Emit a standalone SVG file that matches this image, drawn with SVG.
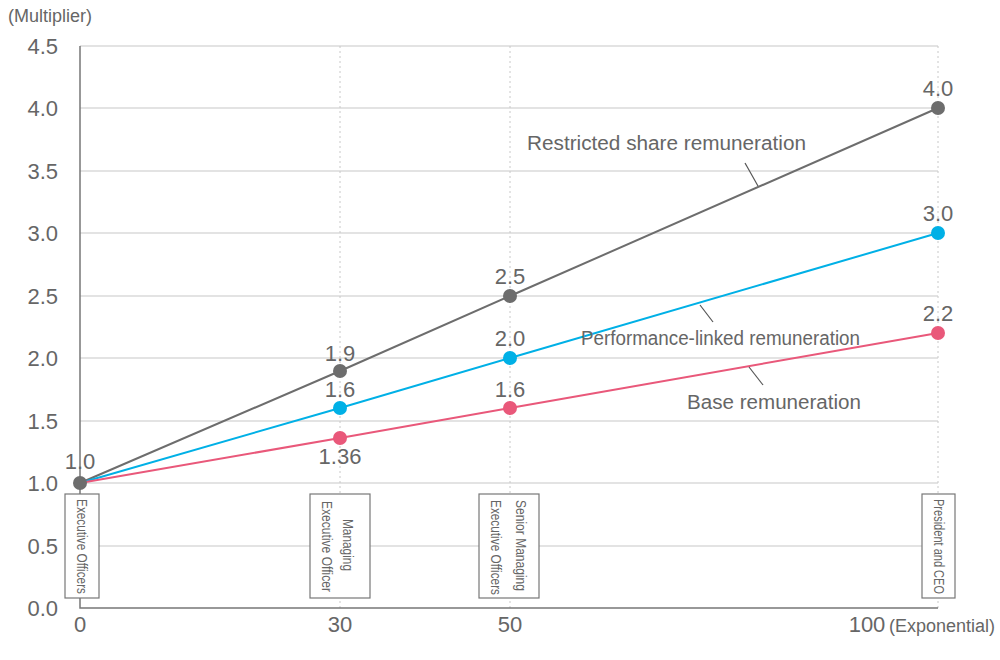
<svg xmlns="http://www.w3.org/2000/svg" width="1000" height="660" viewBox="0 0 1000 660">
<style>
.g{stroke:#c8c8c8;stroke-width:1.2}
.d{stroke:#c8c8c8;stroke-width:1;stroke-dasharray:2,3}
.t{font-family:"Liberation Sans",Arial,sans-serif;fill:#666;font-size:22px}
.s{font-family:"Liberation Sans Narrow","Liberation Sans",Arial,sans-serif;fill:#666;font-size:20px}
.b{font-family:"Liberation Sans Narrow","Liberation Sans",Arial,sans-serif;fill:#666;font-size:14px}
.box{fill:#fff;stroke:#777;stroke-width:1.2}
</style>
<rect width="1000" height="660" fill="#fff"/>
<g id="grid">
<line class="g" x1="80" y1="46" x2="938" y2="46"/>
<line class="g" x1="80" y1="108" x2="938" y2="108"/>
<line class="g" x1="80" y1="171" x2="938" y2="171"/>
<line class="g" x1="80" y1="233" x2="938" y2="233"/>
<line class="g" x1="80" y1="296" x2="938" y2="296"/>
<line class="g" x1="80" y1="358" x2="938" y2="358"/>
<line class="g" x1="80" y1="421" x2="938" y2="421"/>
<line class="g" x1="80" y1="483" x2="938" y2="483"/>
<line class="g" x1="80" y1="546" x2="938" y2="546"/>
<line class="d" x1="340" y1="46" x2="340" y2="608"/>
<line class="d" x1="510" y1="46" x2="510" y2="608"/>
<line class="d" x1="938" y1="46" x2="938" y2="608"/>
<path d="M80 46V608H938" fill="none" stroke="#777" stroke-width="1.5"/>
</g>
<g id="axes" class="t">
<text x="8" y="22" style="font-size:18px">(Multiplier)</text>
<text x="58" y="54" text-anchor="end">4.5</text>
<text x="58" y="116" text-anchor="end">4.0</text>
<text x="58" y="179" text-anchor="end">3.5</text>
<text x="58" y="241" text-anchor="end">3.0</text>
<text x="58" y="304" text-anchor="end">2.5</text>
<text x="58" y="366" text-anchor="end">2.0</text>
<text x="58" y="429" text-anchor="end">1.5</text>
<text x="58" y="491" text-anchor="end">1.0</text>
<text x="58" y="554" text-anchor="end">0.5</text>
<text x="58" y="616" text-anchor="end">0.0</text>
<text x="80" y="632" text-anchor="middle">0</text>
<text x="340" y="632" text-anchor="middle">30</text>
<text x="510" y="632" text-anchor="middle">50</text>
<text x="867" y="632" text-anchor="middle">100</text>
<text x="889" y="632" style="font-size:18px">(Exponential)</text>
</g>
<g id="connectors" fill="none" stroke-width="2">
<polyline points="80,483 340,371 510,296 938,108" stroke="#6d6d6d"/>
<polyline points="80,483 340,408 510,358 938,233" stroke="#00b0e6"/>
<polyline points="80,483 340,438 510,408 938,333" stroke="#e9587a"/>
<g stroke="#555" stroke-width="1.2">
<line x1="745" y1="163" x2="758" y2="186"/>
<line x1="700" y1="305" x2="713" y2="322"/>
<line x1="749" y1="367" x2="763" y2="385"/>
</g>
</g>
<g id="points">
<circle cx="340" cy="438" r="7" fill="#e9587a"/>
<circle cx="510" cy="408" r="7" fill="#e9587a"/>
<circle cx="938" cy="333" r="7" fill="#e9587a"/>
<circle cx="340" cy="408" r="7" fill="#00b0e6"/>
<circle cx="510" cy="358" r="7" fill="#00b0e6"/>
<circle cx="938" cy="233" r="7" fill="#00b0e6"/>
<circle cx="340" cy="371" r="7" fill="#6d6d6d"/>
<circle cx="510" cy="296" r="7" fill="#6d6d6d"/>
<circle cx="938" cy="108" r="7" fill="#6d6d6d"/>
<circle cx="80" cy="483" r="7" fill="#6d6d6d"/>
</g>
<g id="values" class="t" text-anchor="middle">
<text x="80" y="469">1.0</text>
<text x="340" y="361">1.9</text>
<text x="340" y="397">1.6</text>
<text x="340" y="464">1.36</text>
<text x="510" y="284">2.5</text>
<text x="510" y="346">2.0</text>
<text x="510" y="397">1.6</text>
<text x="938" y="96">4.0</text>
<text x="938" y="221">3.0</text>
<text x="938" y="321">2.2</text>
</g>
<g id="series-labels" class="s">
<text x="527" y="150" textLength="279" lengthAdjust="spacingAndGlyphs">Restricted share remuneration</text>
<text x="581" y="345" textLength="279" lengthAdjust="spacingAndGlyphs">Performance-linked remuneration</text>
<text x="687" y="409" textLength="174" lengthAdjust="spacingAndGlyphs">Base remuneration</text>
</g>
<g id="box-exec">
<rect class="box" x="65" y="494" width="34" height="104"/>
<text class="b" transform="translate(77,499) rotate(90)" textLength="95" lengthAdjust="spacingAndGlyphs">Executive Officers</text>
</g>
<g id="box-managing">
<rect class="box" x="310" y="494" width="60" height="104"/>
<text class="b" transform="translate(343,519) rotate(90)" textLength="52" lengthAdjust="spacingAndGlyphs">Managing</text>
<text class="b" transform="translate(322,501) rotate(90)" textLength="91" lengthAdjust="spacingAndGlyphs">Executive Officer</text>
</g>
<g id="box-senior">
<rect class="box" x="479" y="494" width="60" height="104"/>
<text class="b" transform="translate(516,500) rotate(90)" textLength="91" lengthAdjust="spacingAndGlyphs">Senior Managing</text>
<text class="b" transform="translate(491,500) rotate(90)" textLength="95" lengthAdjust="spacingAndGlyphs">Executive Officers</text>
</g>
<g id="box-president">
<rect class="box" x="922" y="494" width="33" height="104"/>
<text class="b" transform="translate(934,499) rotate(90)" textLength="95" lengthAdjust="spacingAndGlyphs">President and CEO</text>
</g>
</svg>
